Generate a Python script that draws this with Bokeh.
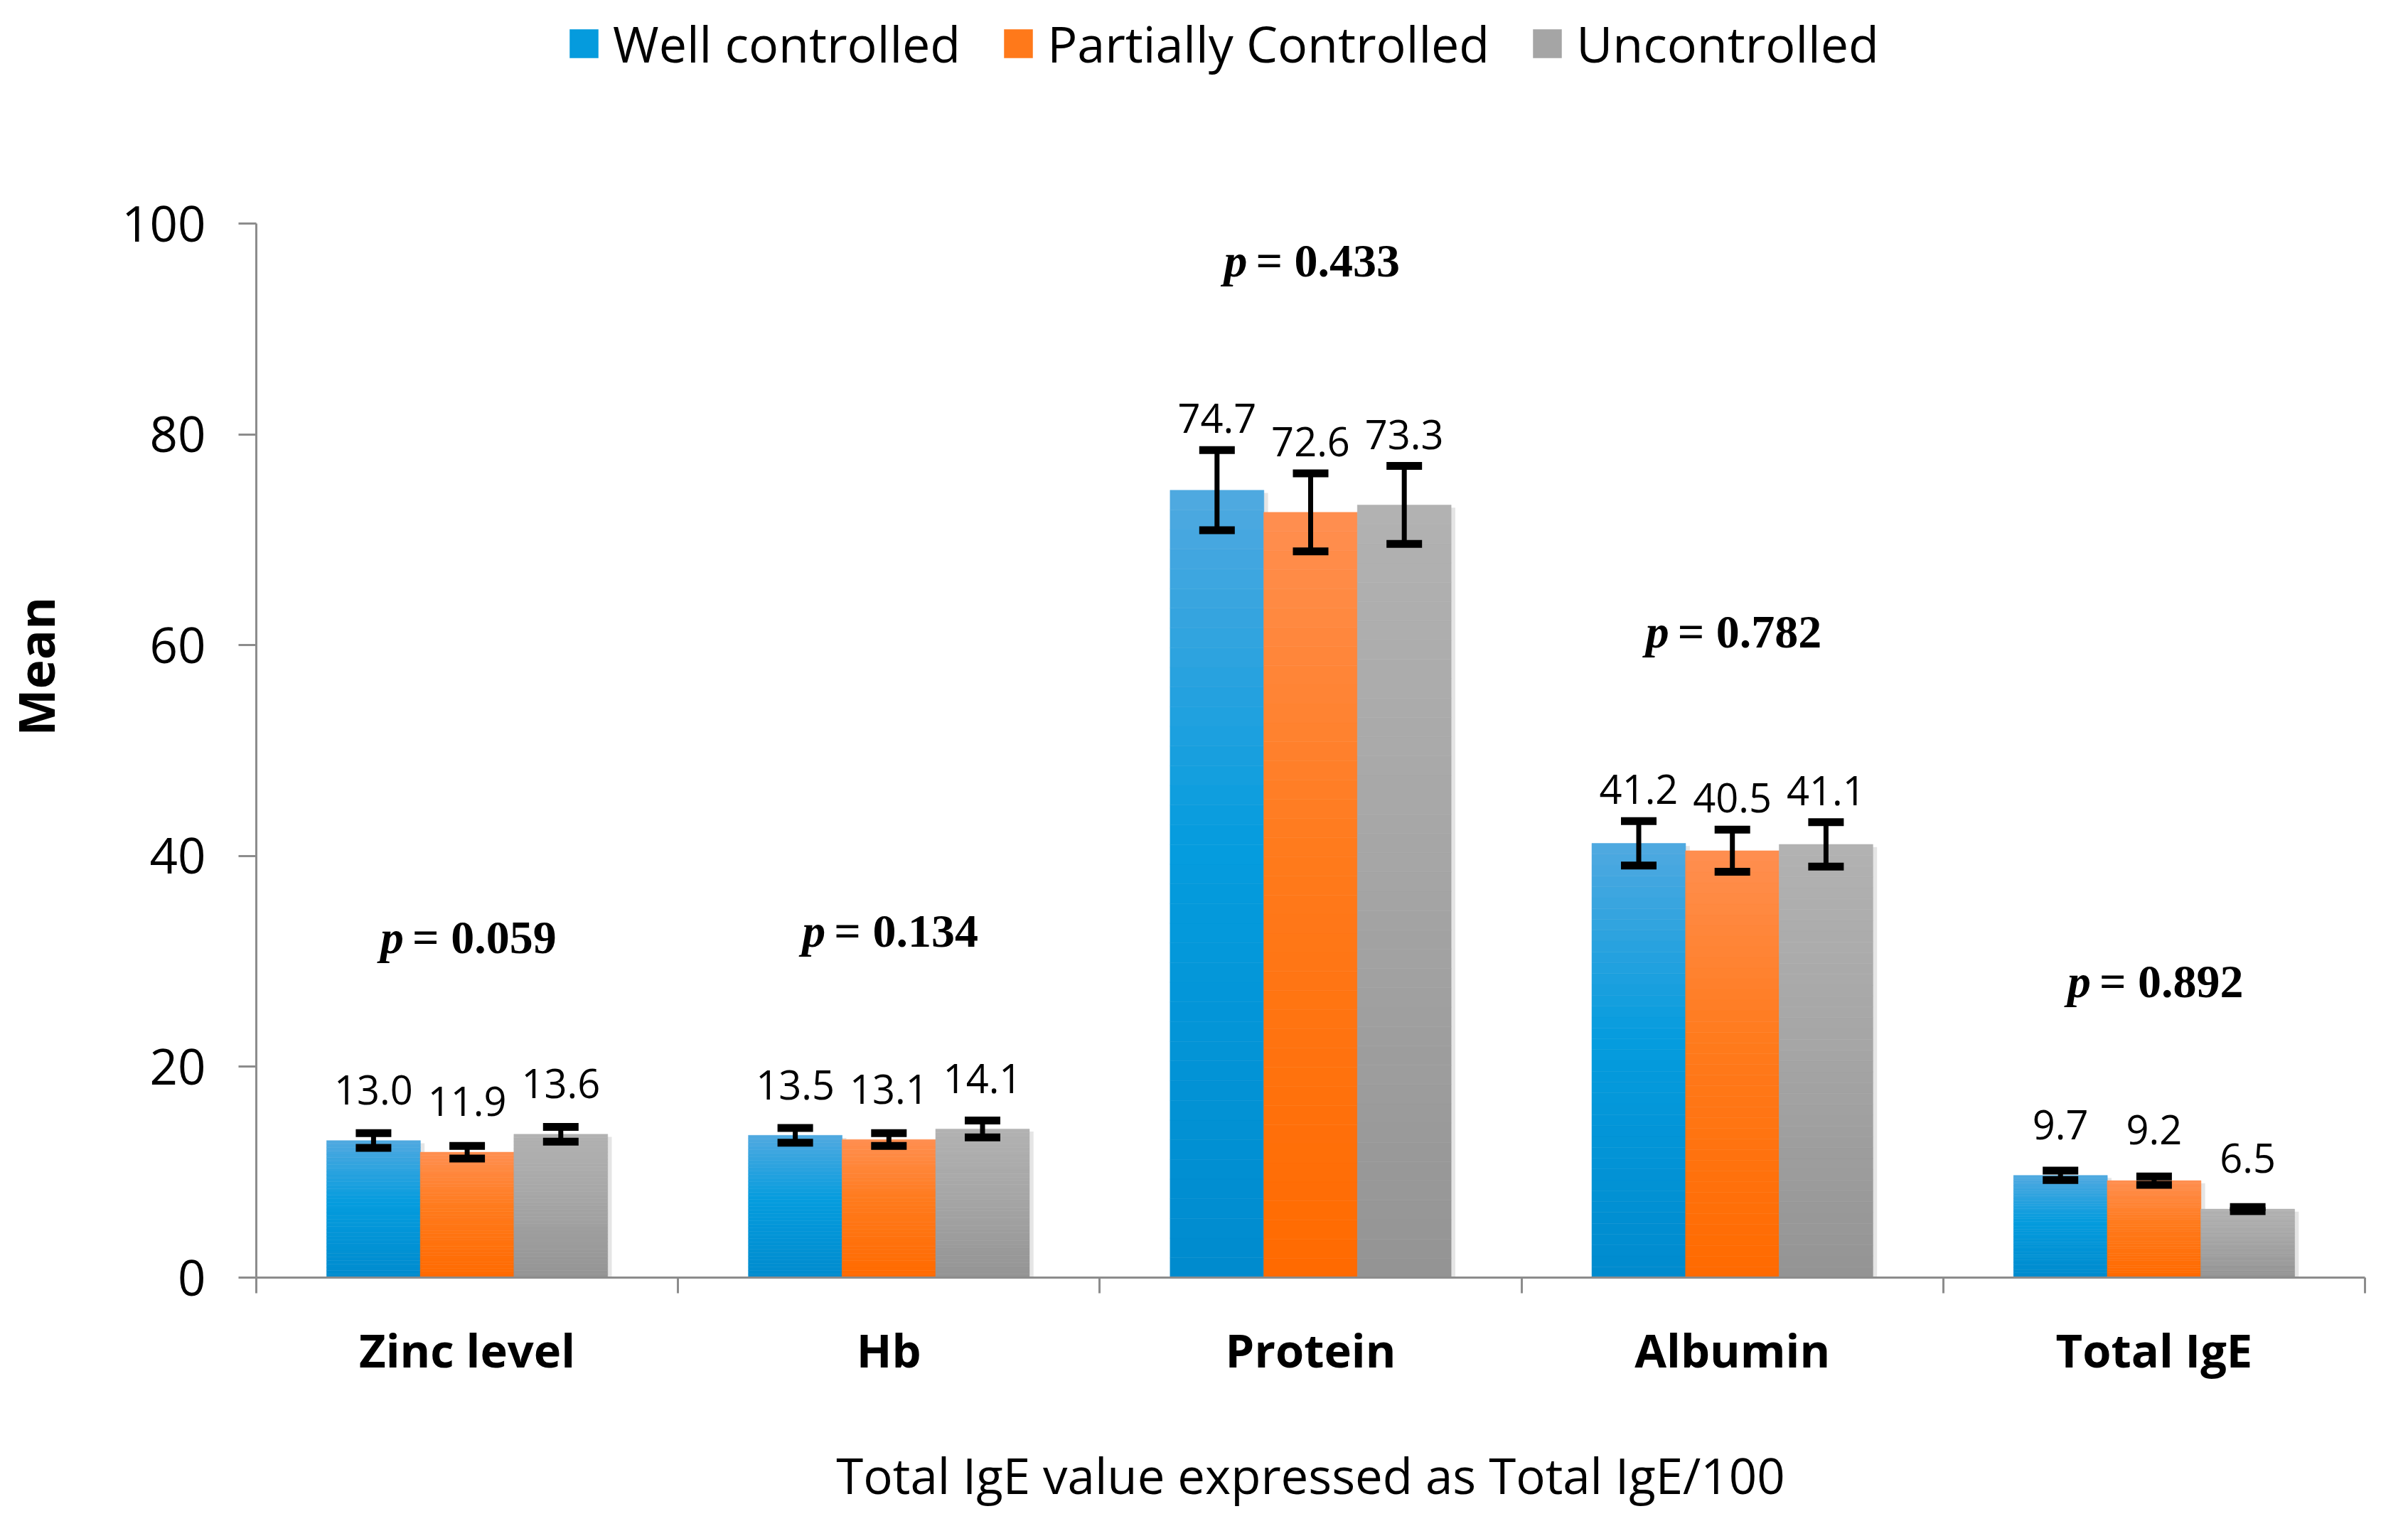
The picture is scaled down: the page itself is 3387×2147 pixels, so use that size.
import numpy as np
from bokeh.plotting import figure
from bokeh.models import (ColumnDataSource, Range1d, FixedTicker, Legend, LegendItem,
                          Whisker, TeeHead, Title)
from bokeh.core.properties import value
from bokeh.embed import file_html
from bokeh.resources import INLINE

# ---------------- data ----------------
categories = ["Zinc level", "Hb", "Protein", "Albumin", "Total IgE"]
series_names = ["Well controlled", "Partially Controlled", "Uncontrolled"]
well = [13.0, 13.5, 74.7, 41.2, 9.7]
partial = [11.9, 13.1, 72.6, 40.5, 9.2]
uncontrolled = [13.6, 14.1, 73.3, 41.1, 6.5]
well_err = [0.7, 0.7, 3.8, 2.1, 0.45]
partial_err = [0.6, 0.6, 3.7, 2.0, 0.4]
uncontrolled_err = [0.7, 0.8, 3.7, 2.1, 0.2]
p_values = ["0.059", "0.134", "0.433", "0.782", "0.892"]
y_ticks = [0, 20, 40, 60, 80, 100]
x_title = "Total IgE value expressed as Total IgE/100"
y_title = "Mean"

# ---------------- styles ----------------
gradients = [
    ((0x50, 0xA9, 0xE0), (0x05, 0x9C, 0xDE), (0x00, 0x8B, 0xCE)),
    ((0xFF, 0x8F, 0x50), (0xFF, 0x7A, 0x1C), (0xFF, 0x6A, 0x00)),
    ((0xB2, 0xB2, 0xB2), (0xA6, 0xA6, 0xA6), (0x94, 0x94, 0x94)),
]
FONT = "Open Sans"
SERIF = "Liberation Serif"
N_SEG = 40
BAR_W = 0.222

W, H = 3371, 2131
LEFT, RIGHT, BOTTOM = 358, 45, 334
AXIS_TOP_PX = 314          # canvas position of the value 100
Y_MAX = 100
frame_bottom = H - BOTTOM
y_end = Y_MAX * frame_bottom / (frame_bottom - AXIS_TOP_PX)


def lerp(c1, c2, t):
    return tuple(int(round(a + (b - a) * t)) for a, b in zip(c1, c2))


def grad_color(top, mid, bot, t):
    c = lerp(top, mid, t / 0.45) if t < 0.45 else lerp(mid, bot, (t - 0.45) / 0.55)
    return "#%02x%02x%02x" % c


p = figure(width=W, height=H, output_backend="svg", toolbar_location=None,
           x_range=Range1d(0, len(categories)), y_range=Range1d(0, y_end),
           min_border_left=LEFT, min_border_right=RIGHT, min_border_top=0,
           min_border_bottom=BOTTOM)
p.outline_line_color = None
p.xgrid.visible = False
p.ygrid.visible = False
p.background_fill_color = "white"
p.border_fill_color = "white"

centers = np.arange(len(categories)) + 0.5
offsets = [-BAR_W, 0.0, BAR_W]
vals = [well, partial, uncontrolled]
errs = [well_err, partial_err, uncontrolled_err]

# shadows
for s in range(3):
    v = np.array(vals[s])
    p.vbar(x=centers + offsets[s] + 0.010, width=BAR_W, top=v - 0.25, bottom=0,
           fill_color="black", fill_alpha=0.10, line_color=None)

legend_items = []
for s in range(3):
    v = np.array(vals[s])
    xs, tops, bots, cols = [], [], [], []
    for i in range(len(categories)):
        for k in range(N_SEG):
            xs.append(centers[i] + offsets[s])
            bots.append(v[i] * k / N_SEG)
            tops.append(v[i] * (k + 1) / N_SEG)
            t = 1 - (k + 0.5) / N_SEG
            cols.append(grad_color(*gradients[s], t))
    src = ColumnDataSource(dict(x=xs, top=tops, bottom=bots, color=cols))
    r = p.vbar(x="x", width=BAR_W * 1.002, top="top", bottom="bottom", source=src,
               fill_color="color", line_color="color", line_width=0.5)
    legend_items.append(LegendItem(label=series_names[s], renderers=[r], index=N_SEG // 2))

# error bars (drawn above the bars)
for s in range(3):
    v = np.array(vals[s])
    e = np.array(errs[s])
    esrc = ColumnDataSource(dict(x=centers + offsets[s], upper=v + e, lower=v - e))
    w = Whisker(base="x", upper="upper", lower="lower", dimension="height", source=esrc,
                line_color="black", line_width=7, level="annotation",
                upper_head=TeeHead(size=50, line_width=11, line_color="black"),
                lower_head=TeeHead(size=50, line_width=11, line_color="black"))
    p.add_layout(w)

# data labels
for s in range(3):
    v = np.array(vals[s])
    e = np.array(errs[s])
    ly = np.maximum(v + 4.8, v + e + 3.0)
    lsrc = ColumnDataSource(dict(x=centers + offsets[s], y=ly,
                                 t=["%.1f" % x for x in v]))
    p.text(x="x", y="y", text="t", source=lsrc, text_align="center",
           text_baseline="alphabetic", text_font=value(FONT), text_font_size="56px",
           text_color="black")

# p-value labels
tops_all = np.max([np.array(vals[s]) + np.array(errs[s]) for s in range(3)], axis=0)
py = tops_all + 18.0
psrc = ColumnDataSource(dict(x=centers, y=py, p=["p"] * len(categories),
                             t=["= " + pv for pv in p_values]))
p.text(x="x", y="y", text="p", source=psrc, text_align="left", text_baseline="middle",
       x_offset=-122, text_font=value(SERIF), text_font_size="66px",
       text_font_style="bold italic", text_color="black")
p.text(x="x", y="y", text="t", source=psrc, text_align="left", text_baseline="middle",
       x_offset=-77, text_font=value(SERIF), text_font_size="66px",
       text_font_style="bold", text_color="black")

# axes
xa = p.xaxis[0]
xa.ticker = FixedTicker(ticks=list(centers), minor_ticks=list(range(len(categories) + 1)))
xa.major_label_overrides = {float(c): cat for c, cat in zip(centers, categories)}
xa.major_tick_out = 0
xa.major_tick_in = 0
xa.minor_tick_out = 22
xa.minor_tick_in = 0
xa.minor_tick_line_color = "#8c8c8c"
xa.minor_tick_line_width = 3
xa.axis_line_color = "#8c8c8c"
xa.axis_line_width = 3
xa.major_label_text_font = FONT
xa.major_label_text_font_style = "bold"
xa.major_label_text_font_size = "65px"
xa.major_label_text_color = "black"
xa.major_label_standoff = 35
xa.axis_label = x_title
xa.axis_label_text_font = FONT
xa.axis_label_text_font_style = "normal"
xa.axis_label_text_font_size = "69px"
xa.axis_label_text_color = "black"
xa.axis_label_standoff = 82

ya = p.yaxis[0]
ya.bounds = (0, Y_MAX)
ya.ticker = FixedTicker(ticks=y_ticks, minor_ticks=[])
ya.major_tick_out = 25
ya.major_tick_in = 0
ya.major_tick_line_color = "#8c8c8c"
ya.major_tick_line_width = 3
ya.minor_tick_out = 0
ya.minor_tick_in = 0
ya.axis_line_color = "#8c8c8c"
ya.axis_line_width = 3
ya.major_label_text_font = FONT
ya.major_label_text_font_size = "69px"
ya.major_label_text_color = "black"
ya.major_label_standoff = 46
# blank label used only as spacing so that the title below sits at the far left
ya.axis_label = " "
ya.axis_label_text_font_size = "2px"
ya.axis_label_standoff = 64

p.add_layout(Title(text=y_title, align="left", offset=762, vertical_align="middle",
                   standoff=0, text_font=FONT, text_font_style="bold",
                   text_font_size="70px", text_color="black"), "left")

legend = Legend(items=legend_items, orientation="horizontal", location=(436, 1688),
                glyph_width=50, glyph_height=50, label_standoff=16, spacing=56,
                padding=0, margin=0, border_line_color=None, background_fill_alpha=0,
                label_text_font=FONT, label_text_font_size="70px",
                label_text_color="black")
p.add_layout(legend)

open("out.html", "w").write(file_html(p, INLINE))
